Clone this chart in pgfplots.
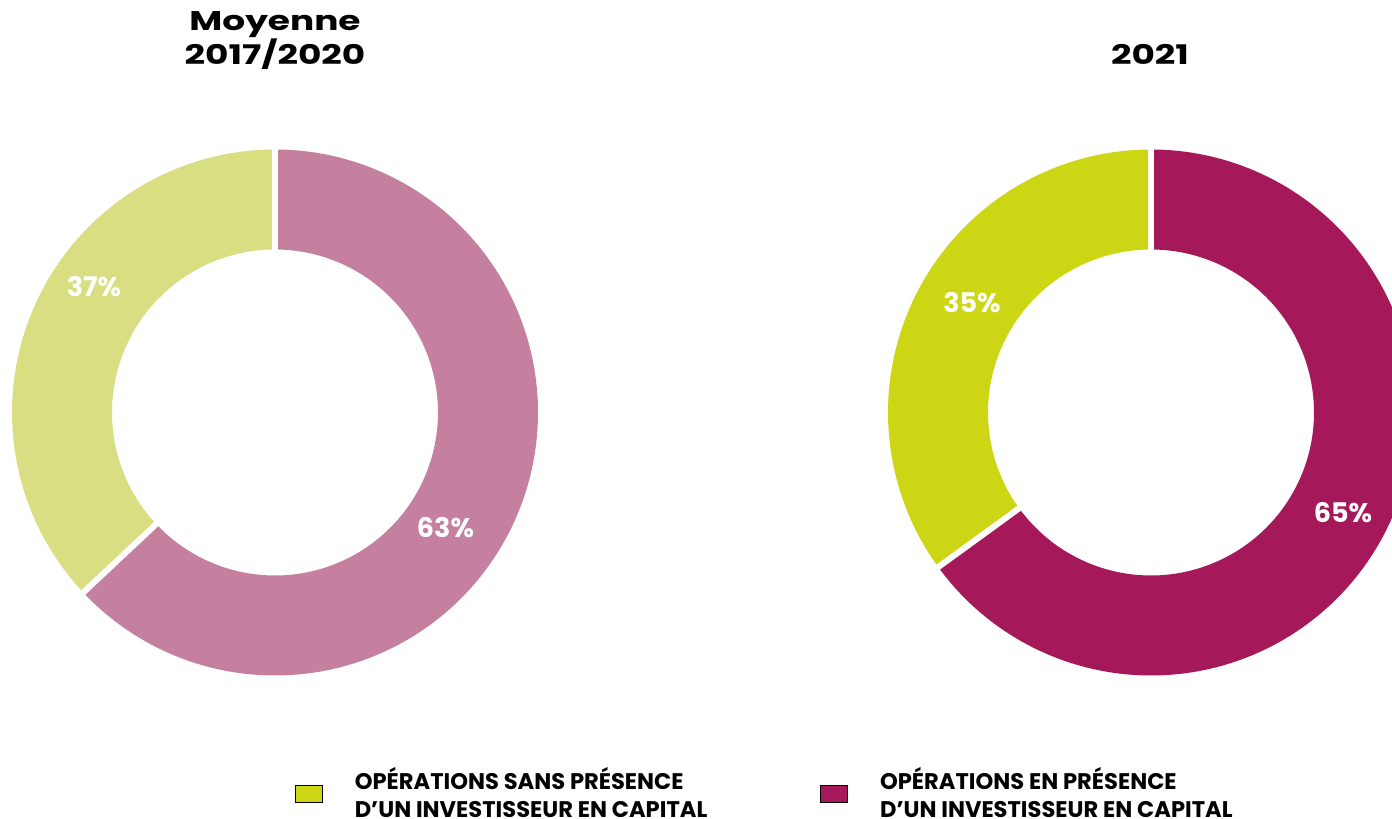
\documentclass[border=0pt]{standalone}
\usepackage{pgfplots}
\pgfplotsset{compat=1.18}
\usepackage{pgfplotstable}
\usepackage{fontspec}
\setmainfont{Poppins}
\newfontfamily\widefont{Poppins}[FakeStretch=1.33]
\definecolor{lgreen}{HTML}{D9DE82}
\definecolor{lpink}{HTML}{C57F9F}
\definecolor{bgreen}{HTML}{CDD615}
\definecolor{magenta2}{HTML}{A5195A}
% shares (percent)
\pgfplotstableread{
label value
sans 37
avec 63
}\leftdata
\pgfplotstableread{
label value
sans 35
avec 65
}\rightdata
\pgfplotstablegetelem{0}{value}\of\leftdata \let\lA\pgfplotsretval
\pgfplotstablegetelem{0}{value}\of\rightdata \let\rA\pgfplotsretval
\pgfmathsetmacro\aL{90+3.6*\lA}
\pgfmathsetmacro\aR{90+3.6*\rA}
\def\cyy{406.5}
\begin{document}
\begin{tikzpicture}
\useasboundingbox (0,0) rectangle (696pt,409.5pt);
\begin{axis}[
  at={(0,0)}, anchor=south west,
  scale only axis, width=696pt, height=409.5pt,
  xmin=0, xmax=1392, ymin=0, ymax=819,
  hide axis, clip=true,
  legend columns=2,
  legend image code/.code={\fill[#1] (0pt,-8.25pt) rectangle (13.5pt,0.25pt);},
  legend style={draw=none, fill=none, inner sep=0pt, outer sep=0pt,
    at={(axis cs:295,33)}, anchor=west,
    nodes={inner sep=0pt, font=\bfseries\fontsize{11.3}{14}\selectfont},
    /tikz/every odd column/.append style={column sep=16pt},
    /tikz/every even column/.append style={column sep=56.5pt},
    legend cell align=left},
]
% left donut
\addplot[lgreen, line width=50pt, domain=90:\aL, samples=150, no marks, forget plot]
  ({275+213*cos(x)}, {\cyy+213*sin(x)});
\addplot[lpink, line width=50pt, domain=\aL:450, samples=200, no marks, forget plot]
  ({275+213*cos(x)}, {\cyy+213*sin(x)});
\addplot[white, line width=3pt, domain=150:275, samples=2, no marks, forget plot]
  ({275+x*cos(90)}, {\cyy+x*sin(90)});
\addplot[white, line width=3pt, domain=150:275, samples=2, no marks, forget plot]
  ({275+x*cos(\aL)}, {\cyy+x*sin(\aL)});
% right donut
\addplot[bgreen, line width=50pt, domain=90:\aR, samples=150, no marks, forget plot]
  ({1151+213*cos(x)}, {\cyy+213*sin(x)});
\addplot[magenta2, line width=50pt, domain=\aR:450, samples=200, no marks, forget plot]
  ({1151+213*cos(x)}, {\cyy+213*sin(x)});
\addplot[white, line width=3pt, domain=150:275, samples=2, no marks, forget plot]
  ({1151+x*cos(90)}, {\cyy+x*sin(90)});
\addplot[white, line width=3pt, domain=150:275, samples=2, no marks, forget plot]
  ({1151+x*cos(\aR)}, {\cyy+x*sin(\aR)});
% labels
\node[white, font=\bfseries\fontsize{13.5}{16}\selectfont] at (axis cs:94,532) {37\%};
\node[white, font=\bfseries\fontsize{13.5}{16}\selectfont] at (axis cs:445.5,291) {63\%};
\node[white, font=\bfseries\fontsize{13.5}{16}\selectfont] at (axis cs:972,516) {35\%};
\node[white, font=\bfseries\fontsize{13.5}{16}\selectfont] at (axis cs:1343,306) {65\%};
% titles
\node[anchor=base, font=\widefont\bfseries\fontsize{13.5}{17}\selectfont] at (axis cs:275,788) {Moyenne};
\node[anchor=base, font=\widefont\bfseries\fontsize{13.5}{17}\selectfont] at (axis cs:275,754) {2017/2020};
\node[anchor=base, font=\widefont\bfseries\fontsize{13.5}{17}\selectfont] at (axis cs:1150,754) {2021};
% legend
\addlegendimage{fill=bgreen}
\addlegendentry{\begin{tabular}{@{}l@{}}OPÉRATIONS SANS PRÉSENCE\\D’UN INVESTISSEUR EN CAPITAL\end{tabular}}
\addlegendimage{fill=magenta2}
\addlegendentry{\begin{tabular}{@{}l@{}}OPÉRATIONS EN PRÉSENCE\\D’UN INVESTISSEUR EN CAPITAL\end{tabular}}
\end{axis}
\end{tikzpicture}
\end{document}
